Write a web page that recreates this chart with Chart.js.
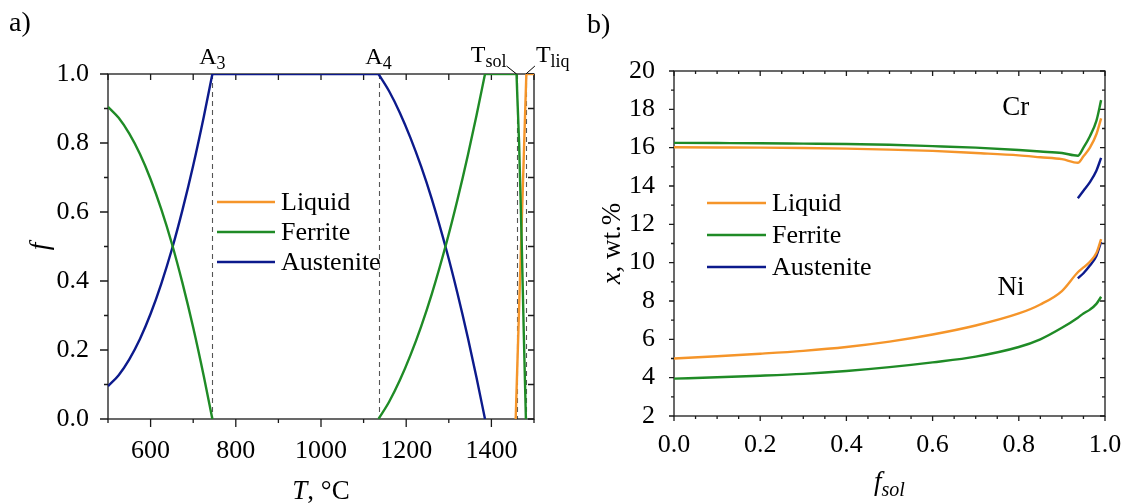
<!DOCTYPE html>
<html>
<head>
<meta charset="utf-8">
<script src="https://cdn.jsdelivr.net/npm/chart.js@4.4.1/dist/chart.umd.min.js"></script>
<style>
  html, body { margin: 0; padding: 0; background: #fff; }
  #wrap { position: relative; width: 1129px; height: 504px; overflow: hidden; }
  canvas { position: absolute; top: 0; }
  #chartA { left: 0; z-index: 2; }
  #chartB { left: 560px; z-index: 1; }
</style>
</head>
<body>
<div id="wrap">
  <canvas id="chartA" width="600" height="504"></canvas>
  <canvas id="chartB" width="569" height="504"></canvas>
</div>
<script>
/* ===================== DATA: panel a) phase fraction vs T ===================== */

const phaseNames = ["Liquid", "Ferrite", "Austenite"];

// austenite: growth below A3, plateau, decay above A4
const tAustLow = [500, 525, 550, 575, 600, 625, 650, 675, 700, 725, 745];
const fAustLow = [0.095, 0.127, 0.173, 0.232, 0.305, 0.392, 0.492, 0.607, 0.735, 0.877, 1.0];
const tAustPlateau = [745, 1135];
const fAustPlateau = [1.0, 1.0];
const tAustHigh = [1135, 1160, 1185, 1210, 1235, 1260, 1295, 1320, 1345, 1365, 1385];
const fAustHigh = [1.0, 0.95, 0.888, 0.815, 0.732, 0.638, 0.487, 0.366, 0.234, 0.12, 0.0];

// ferrite: low-T part, delta-ferrite growth, plateau, melting
const tFerLow = [500, 525, 550, 575, 600, 625, 650, 675, 700, 725, 745];
const fFerLow = [0.905, 0.873, 0.827, 0.768, 0.695, 0.608, 0.508, 0.393, 0.265, 0.123, 0.0];
const tFerHigh = [1135, 1160, 1185, 1210, 1235, 1260, 1295, 1320, 1345, 1365, 1385];
const fFerHigh = [0.0, 0.05, 0.112, 0.185, 0.268, 0.362, 0.513, 0.634, 0.766, 0.88, 1.0];
const tFerPlateau = [1385, 1459];
const fFerPlateau = [1.0, 1.0];
const tFerMelt = [1459, 1461, 1465, 1471, 1476, 1481];
const fFerMelt = [1.0, 0.93, 0.80, 0.52, 0.25, 0.0];

// liquid
const tLiquid = [1457, 1482];
const fLiquid = [0.0, 1.0];
const tLiqPlateau = [1482, 1500];
const fLiqPlateau = [1.0, 1.0];

const transT = [745, 1135, 1459, 1481];   // A3, A4, Tsol, Tliq

const aXTicks = [600, 800, 1000, 1200, 1400];
const aYTicks = [0, 0.2, 0.4, 0.6, 0.8, 1.0];

/* ===================== DATA: panel b) composition vs f_sol ===================== */

const fsol = [0, 0.1, 0.2, 0.3, 0.4, 0.5, 0.6, 0.7, 0.8, 0.85, 0.9, 0.937, 0.95, 0.965, 0.98, 0.991];
const crLiquid  = [16.02, 16.01, 16.0, 15.98, 15.95, 15.9, 15.83, 15.72, 15.6, 15.5, 15.4, 15.21, 15.55, 16.0, 16.7, 17.53];
const crFerrite = [16.25, 16.24, 16.23, 16.21, 16.19, 16.15, 16.08, 16.0, 15.88, 15.8, 15.72, 15.58, 16.0, 16.6, 17.4, 18.48];
const niLiquid  = [5.0, 5.12, 5.25, 5.4, 5.6, 5.88, 6.25, 6.72, 7.35, 7.82, 8.52, 9.5, 9.75, 10.05, 10.5, 11.23];
const niFerrite = [3.95, 4.02, 4.1, 4.2, 4.35, 4.55, 4.8, 5.1, 5.6, 6.0, 6.6, 7.13, 7.35, 7.55, 7.85, 8.22];

const fsolAust    = [0.937, 0.95, 0.965, 0.98, 0.991];
const crAustenite = [13.36, 13.75, 14.2, 14.8, 15.47];
const niAustenite = [9.18, 9.45, 9.85, 10.35, 11.09];

const bXTicks = [0, 0.2, 0.4, 0.6, 0.8, 1.0];
const bYTicks = [2, 4, 6, 8, 10, 12, 14, 16, 18, 20];

/* ===================== STYLE ===================== */

const SERIF = "'Liberation Serif', 'Times New Roman', serif";
const phaseColors = { Liquid: "#F5952A", Ferrite: "#1F8B26", Austenite: "#0C1A8C" };
const tickFont = { family: SERIF, size: 26 };

function series(name, xs, ys) {
  return {
    label: name,
    data: xs.map((x, i) => ({ x: x, y: ys[i] })),
    borderColor: phaseColors[name],
    borderWidth: 2.4,
    pointRadius: 0,
    fill: false,
    cubicInterpolationMode: "monotone"
  };
}

// text with italic / subscript pieces
function rich(ctx, parts, x, y, align, size) {
  size = size || 26;
  const fontOf = p => (p.i ? "italic " : "") + (p.s ? Math.round(size * 0.74) : size) + "px " + SERIF;
  let w = 0;
  parts.forEach(p => { ctx.font = fontOf(p); p.w = ctx.measureText(p.t).width; w += p.w; });
  let cx = align === "center" ? x - w / 2 : align === "right" ? x - w : x;
  ctx.textAlign = "left";
  ctx.textBaseline = "alphabetic";
  parts.forEach(p => {
    ctx.font = fontOf(p);
    ctx.fillText(p.t, cx, y + (p.s ? size * 0.22 : 0));
    cx += p.w;
  });
}

// box, ticks on all four sides and dashed guides (drawn under the curves)
function framePlugin(cfg) {
  return {
    id: "frame",
    beforeDatasetsDraw(chart) {
      const { ctx, chartArea: a, scales: { x, y } } = chart;
      const isMajor = (list, v) => list.some(t => Math.abs(t - v) < 1e-6);
      ctx.save();

      if (cfg.guides) {
        ctx.strokeStyle = "#555";
        ctx.lineWidth = 1.1;
        ctx.setLineDash([5, 4]);
        cfg.guides.forEach(v => {
          const px = Math.round(x.getPixelForValue(v)) + 0.5;
          ctx.beginPath();
          ctx.moveTo(px, a.top);
          ctx.lineTo(px, a.bottom);
          ctx.stroke();
        });
        ctx.setLineDash([]);
      }

      ctx.strokeStyle = "#1a1a1a";
      ctx.lineWidth = 1.3;
      ctx.strokeRect(a.left, a.top, a.right - a.left, a.bottom - a.top);
      ctx.beginPath();
      for (let k = 0; ; k++) {
        const v = x.min + k * cfg.xMinor;
        if (v > x.max + 1e-9) break;
        const px = x.getPixelForValue(v);
        const big = isMajor(cfg.xTicks, v);
        ctx.moveTo(px, a.bottom);
        ctx.lineTo(px, a.bottom + (big ? cfg.out : cfg.outMinor));
        ctx.moveTo(px, a.top);
        ctx.lineTo(px, a.top + (big ? cfg.inner : cfg.innerMinor));
      }
      for (let k = 0; ; k++) {
        const v = y.min + k * cfg.yMinor;
        if (v > y.max + 1e-9) break;
        const py = y.getPixelForValue(v);
        const big = isMajor(cfg.yTicks, v);
        ctx.moveTo(a.left, py);
        ctx.lineTo(a.left - (big ? cfg.out : cfg.outMinor), py);
        ctx.moveTo(a.right, py);
        ctx.lineTo(a.right - (big ? cfg.inner : cfg.innerMinor), py);
      }
      ctx.stroke();
      ctx.restore();
    }
  };
}

// legend inside the plot
function legendPlugin(cfg) {
  return {
    id: "inLegend",
    afterDraw(chart) {
      const ctx = chart.ctx;
      ctx.save();
      ctx.font = "26px " + SERIF;
      ctx.textBaseline = "middle";
      ctx.textAlign = "left";
      phaseNames.forEach((name, i) => {
        const yy = cfg.y + i * cfg.gap;
        ctx.strokeStyle = phaseColors[name];
        ctx.lineWidth = 2.4;
        ctx.beginPath();
        ctx.moveTo(cfg.x, yy);
        ctx.lineTo(cfg.x + cfg.len, yy);
        ctx.stroke();
        ctx.fillStyle = "#000";
        ctx.fillText(name, cfg.x + cfg.len + 6, yy + 1);
      });
      ctx.restore();
    }
  };
}

function scaleCfg(min, max, list, size, fmt, pad, horizontal) {
  return {
    type: "linear",
    min: min,
    max: max,
    afterBuildTicks: s => { s.ticks = list.map(v => ({ value: v })); },
    afterFit: s => { if (horizontal) s.height = size; else s.width = size; },
    grid: { display: false },
    border: { display: false },
    ticks: { font: tickFont, color: "#000", padding: pad, maxRotation: 0, autoSkip: false, callback: fmt }
  };
}

const baseOptions = (padding, scales) => ({
  responsive: false,
  animation: false,
  devicePixelRatio: 1,
  layout: { padding: padding },
  plugins: { legend: { display: false }, tooltip: { enabled: false } },
  scales: scales
});

/* ===================== PANEL a) ===================== */

const labelsA = {
  id: "labelsA",
  afterDraw(chart) {
    const { ctx, chartArea: a, scales: { x } } = chart;
    ctx.save();
    ctx.fillStyle = "#000";
    rich(ctx, [{ t: "a)" }], 9, 31, "left", 28);

    const [a3, a4, tsol, tliq] = transT.map(v => x.getPixelForValue(v));
    rich(ctx, [{ t: "A" }, { t: "3", s: 1 }], a3, a.top - 10, "center", 24);
    rich(ctx, [{ t: "A" }, { t: "4", s: 1 }], a4, a.top - 10, "center", 24);

    ctx.strokeStyle = "#000";
    ctx.lineWidth = 1;
    ctx.beginPath();
    ctx.moveTo(tsol - 10, a.top - 8);
    ctx.lineTo(tsol, a.top);
    ctx.moveTo(tliq, a.top);
    ctx.lineTo(tliq + 9, a.top - 8);
    ctx.stroke();
    rich(ctx, [{ t: "T" }, { t: "sol", s: 1 }], tsol - 10, a.top - 12, "right", 24);
    rich(ctx, [{ t: "T" }, { t: "liq", s: 1 }], tliq + 10, a.top - 12, "left", 24);

    rich(ctx, [{ t: "T", i: 1 }, { t: ", °C" }], (a.left + a.right) / 2, 499, "center", 27);
    ctx.translate(48, (a.top + a.bottom) / 2);
    ctx.rotate(-Math.PI / 2);
    rich(ctx, [{ t: "f", i: 1 }], 0, 0, "center", 27);
    ctx.restore();
  }
};

new Chart(document.getElementById("chartA"), {
  type: "line",
  data: {
    datasets: [
      series("Ferrite", tFerLow, fFerLow),
      series("Ferrite", tFerHigh, fFerHigh),
      series("Ferrite", tFerPlateau, fFerPlateau),
      series("Ferrite", tFerMelt, fFerMelt),
      series("Austenite", tAustLow, fAustLow),
      series("Austenite", tAustPlateau, fAustPlateau),
      series("Austenite", tAustHigh, fAustHigh),
      series("Liquid", tLiquid, fLiquid),
      series("Liquid", tLiqPlateau, fLiqPlateau)
    ]
  },
  options: baseOptions({ left: 0, right: 66, top: 74, bottom: 0 }, {
    x: scaleCfg(500, 1500, aXTicks, 85, v => String(v), 9, true),
    y: scaleCfg(0, 1, aYTicks, 108, v => v.toFixed(1), 11, false)
  }),
  plugins: [
    framePlugin({ guides: transT, xTicks: aXTicks, yTicks: aYTicks, xMinor: 100, yMinor: 0.1,
                  out: 8, outMinor: 4, inner: 6, innerMinor: 6 }),
    legendPlugin({ x: 217, y: 202, gap: 30, len: 58 }),
    labelsA
  ]
});

/* ===================== PANEL b) ===================== */

const labelsB = {
  id: "labelsB",
  afterDraw(chart) {
    const { ctx, chartArea: a, scales: { x, y } } = chart;
    ctx.save();
    ctx.fillStyle = "#000";
    rich(ctx, [{ t: "b)" }], 27, 33, "left", 28);

    ctx.font = "27px " + SERIF;
    ctx.textAlign = "center";
    ctx.textBaseline = "middle";
    ctx.fillText("Cr", x.getPixelForValue(0.793), y.getPixelForValue(18.07));
    ctx.fillText("Ni", x.getPixelForValue(0.782), y.getPixelForValue(8.68));

    rich(ctx, [{ t: "f", i: 1 }, { t: "sol", i: 1, s: 1 }], (a.left + a.right) / 2, 490, "center", 27);
    ctx.translate(60, (a.top + a.bottom) / 2);
    ctx.rotate(-Math.PI / 2);
    rich(ctx, [{ t: "x", i: 1 }, { t: ", wt.%" }], 0, 0, "center", 27);
    ctx.restore();
  }
};

new Chart(document.getElementById("chartB"), {
  type: "line",
  data: {
    datasets: [
      series("Liquid", fsol, crLiquid),
      series("Liquid", fsol, niLiquid),
      series("Ferrite", fsol, crFerrite),
      series("Ferrite", fsol, niFerrite),
      series("Austenite", fsolAust, crAustenite),
      series("Austenite", fsolAust, niAustenite)
    ]
  },
  options: baseOptions({ left: 0, right: 24, top: 71, bottom: 0 }, {
    x: scaleCfg(0, 1, bXTicks, 88, v => v.toFixed(1), 6, true),
    y: scaleCfg(2, 20, bYTicks, 114, v => String(v), 11, false)
  }),
  plugins: [
    framePlugin({ xTicks: bXTicks, yTicks: bYTicks, xMinor: 0.05, yMinor: 1,
                  out: 5, outMinor: 3, inner: 5, innerMinor: 3 }),
    legendPlugin({ x: 147, y: 203, gap: 32, len: 59 }),
    labelsB
  ]
});
</script>
</body>
</html>
